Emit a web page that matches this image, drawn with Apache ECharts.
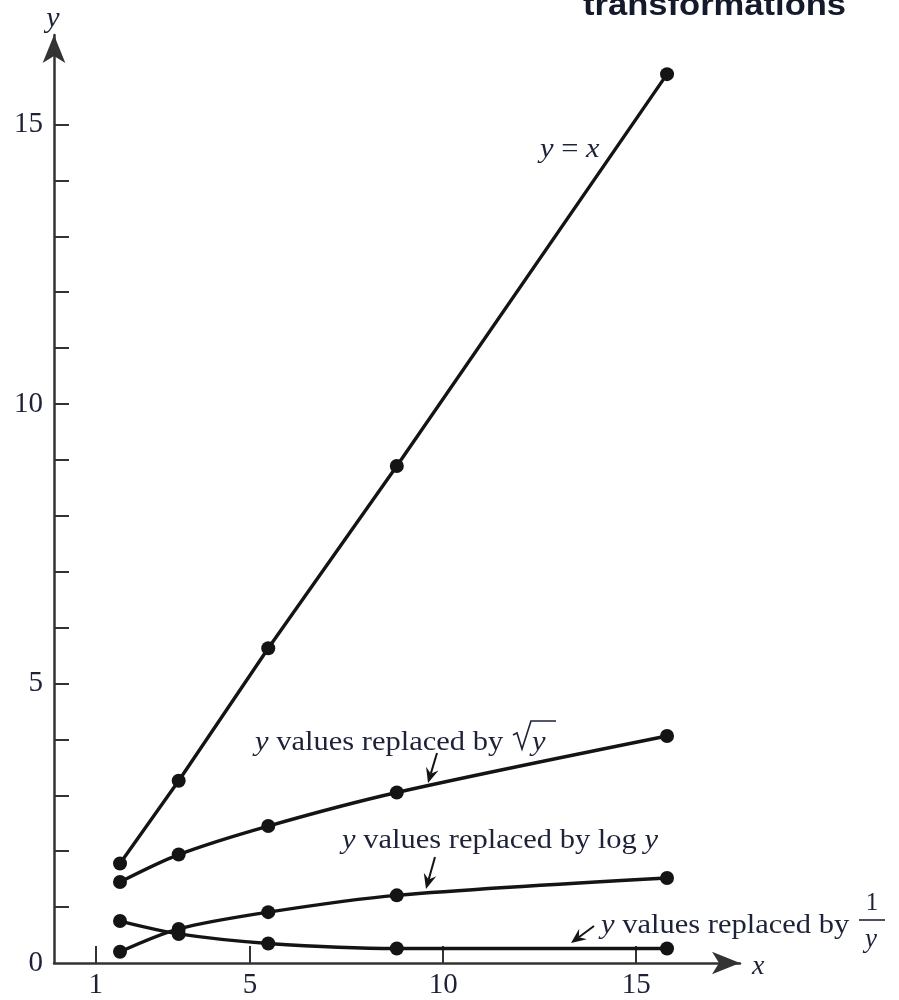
<!DOCTYPE html>
<html>
<head>
<meta charset="utf-8">
<title>transformations</title>
<script src="https://cdn.jsdelivr.net/npm/echarts@6/dist/echarts.min.js"></script>
<style>
  html, body { margin: 0; padding: 0; background: #ffffff; }
  #chart { width: 899px; height: 1000px; }
</style>
</head>
<body>
<div id="chart"></div>
<script>
// Five observations and four versions of the response variable
const xValues     = [1.63, 3.15, 5.47, 8.8, 15.8];
const yIdentity   = [1.78, 3.26, 5.63, 8.89, 15.9];
const ySqrt       = [1.45, 1.94, 2.45, 3.05, 4.06];
const yLog        = [0.2, 0.61, 0.91, 1.21, 1.52];
const yReciprocal = [0.75, 0.52, 0.35, 0.26, 0.26];

// Axis ticks and labels
const xTickValues  = [1, 5, 10, 15];
const yTickValues  = [1, 2, 3, 4, 5, 6, 7, 8, 9, 10, 11, 12, 13, 14, 15];
const yLabelValues = [0, 5, 10, 15];

const INK = '#141414';
const TEXT = '#1d2238';
const SERIF = "'Liberation Serif', 'Times New Roman', serif";
const SANS = "'Liberation Sans', Arial, sans-serif";

function pairs(ys) {
  return xValues.map((x, i) => [x, ys[i]]);
}

function lineSeries(name, ys, smooth) {
  return {
    name: name,
    type: 'line',
    data: pairs(ys),
    smooth: smooth,
    symbol: 'circle',
    symbolSize: 14,
    lineStyle: { color: INK, width: 3.4 },
    itemStyle: { color: INK },
    emphasis: { disabled: true },
    z: 3
  };
}

// Text placed by its baseline; the line box is bottom-aligned, so drop it a little
function label(left, baseline, text, size, opts) {
  opts = opts || {};
  const family = opts.family || SERIF;
  const fill = opts.fill || TEXT;
  const drop = opts.drop != null ? opts.drop : 0.36;
  return {
    type: 'text',
    x: left,
    y: baseline + size * drop,
    scaleX: opts.scaleX || 1,
    z: 10,
    style: {
      text: text,
      font: (opts.fontStyle || 'normal') + ' ' + (opts.weight || 'normal') + ' ' + size + 'px ' + family,
      fill: fill,
      align: opts.align || 'left',
      verticalAlign: 'bottom',
      rich: {
        i: { fontStyle: 'italic', fontSize: size, fontFamily: family, fill: fill, color: fill }
      }
    }
  };
}

// Small pointer arrow with a notched head
function arrow(x1, y1, x2, y2) {
  const a = Math.atan2(y2 - y1, x2 - x1);
  const dx = Math.cos(a), dy = Math.sin(a);
  const px = -dy, py = dx;
  const L = 15, W = 6.5;
  const notch = [x2 - dx * L * 0.65, y2 - dy * L * 0.65];
  return [
    {
      type: 'line', z: 10,
      shape: { x1: x1, y1: y1, x2: notch[0], y2: notch[1] },
      style: { stroke: INK, lineWidth: 2 }
    },
    {
      type: 'polygon', z: 10,
      shape: { points: [
        [x2, y2],
        [x2 - dx * L + px * W, y2 - dy * L + py * W],
        notch,
        [x2 - dx * L - px * W, y2 - dy * L - py * W]
      ] },
      style: { fill: INK }
    }
  ];
}

const SX = 1.13;   // the annotation face is set a little wide
const graphics = [
  label(583, 17, 'transformations', 32, { family: SANS, weight: 'bold', scaleX: 1.08, fill: '#141a2c', drop: 0.17 }),
  label(53, 23, 'y', 30, { fontStyle: 'italic', align: 'center' }),
  label(752, 971, 'x', 28, { fontStyle: 'italic' }),
  label(540, 154, '{i|y} = {i|x}', 27, { scaleX: SX }),
  label(255, 747, '{i|y} values replaced by', 27, { scaleX: SX }),
  label(532, 747, 'y', 27, { fontStyle: 'italic', scaleX: SX }),
  {
    type: 'polyline', z: 10,
    shape: { points: [[513, 735], [517, 733], [522, 749], [531, 721], [556, 721]] },
    style: { stroke: TEXT, lineWidth: 1.6, fill: null }
  },
  label(342, 845, '{i|y} values replaced by log {i|y}', 27, { scaleX: SX }),
  label(601, 930, '{i|y} values replaced by', 27, { scaleX: SX }),
  label(872, 907, '1', 25, { align: 'center' }),
  {
    type: 'line', z: 10,
    shape: { x1: 859, y1: 920, x2: 885, y2: 920 },
    style: { stroke: TEXT, lineWidth: 1.6 }
  },
  label(871, 944, 'y', 27, { fontStyle: 'italic', align: 'center' })
].concat(
  arrow(437, 753, 428, 783),
  arrow(435, 857, 426, 889),
  arrow(594, 926, 571, 943)
);

const chart = echarts.init(document.getElementById('chart'), null, { renderer: 'canvas' });

chart.setOption({
  animation: false,
  backgroundColor: '#ffffff',
  grid: { left: 54, right: 159, top: 35, bottom: 35.5, containLabel: false },
  xAxis: {
    type: 'value',
    min: -0.08,
    max: 17.69,
    splitLine: { show: false },
    axisLine: {
      show: true,
      onZero: false,
      symbol: ['none', 'arrow'],
      symbolSize: [17, 28],
      lineStyle: { color: '#333333', width: 2.5 }
    },
    axisTick: {
      show: true,
      inside: true,
      length: 17,
      customValues: xTickValues,
      lineStyle: { color: '#333333', width: 2 }
    },
    axisLabel: {
      customValues: xTickValues,
      margin: 8,
      color: TEXT,
      fontFamily: SERIF,
      fontSize: 29
    }
  },
  yAxis: {
    type: 'value',
    min: 0,
    max: 16.6,
    splitLine: { show: false },
    axisLine: {
      show: true,
      onZero: false,
      symbol: ['none', 'arrow'],
      symbolSize: [17, 28],
      lineStyle: { color: '#333333', width: 2.5 }
    },
    axisTick: {
      show: true,
      inside: true,
      length: 15,
      customValues: yTickValues,
      lineStyle: { color: '#333333', width: 2 }
    },
    axisLabel: {
      customValues: yLabelValues,
      margin: 11,
      color: TEXT,
      fontFamily: SERIF,
      fontSize: 29
    }
  },
  series: [
    lineSeries('y = x', yIdentity, false),
    lineSeries('sqrt y', ySqrt, 0.3),
    lineSeries('log y', yLog, 0.3),
    lineSeries('1/y', yReciprocal, 0.3)
  ],
  graphic: graphics
});
</script>
</body>
</html>
